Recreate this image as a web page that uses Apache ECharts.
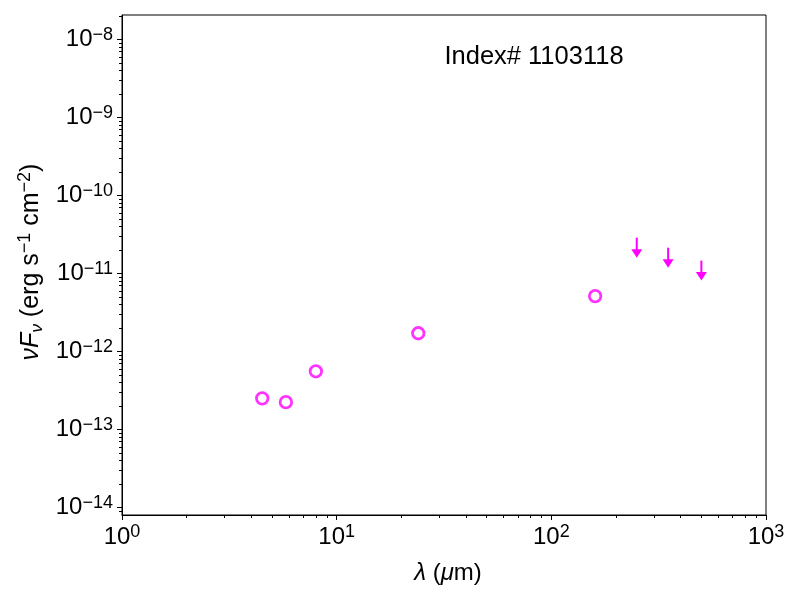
<!DOCTYPE html>
<html>
<head>
<meta charset="utf-8">
<script src="https://cdn.jsdelivr.net/npm/echarts@6/dist/echarts.min.js"></script>
<style>
  html, body { margin: 0; padding: 0; background: #fff; }
  #chart { width: 800px; height: 600px; }
</style>
</head>
<body>
<div id="chart"></div>
<script>
// photometry (wavelength in micron, nuFnu in erg/s/cm2)
const wavelengths = [4.5, 5.8, 8.0, 24, 160];
const fluxes = [2.52e-13, 2.25e-13, 5.6e-13, 1.72e-12, 5.15e-12];
// upper limits
const limitWavelengths = [250, 350, 500];
const limitFluxes = [2.89e-11, 2.15e-11, 1.47e-11];

const xDecades = [0, 1, 2, 3];
const yDecades = [-14, -13, -12, -11, -10, -9, -8];
const sourceLabel = 'Index# 1103118';

const MAGENTA = '#ff00ff';
const FONT = 'Liberation Sans';
const Y_MIN = -14.094, Y_MAX = -7.685;

const log = Math.log10;

// minor tick positions (2..9 x 10^n) in log space
function minorTicks(lo, hi) {
  const out = [];
  for (let n = Math.floor(lo); n <= Math.ceil(hi); n++) {
    for (let k = 2; k <= 9; k++) {
      const v = n + log(k);
      if (v > lo && v < hi) out.push(v);
    }
  }
  return out;
}

const powerLabel = v => {
  const e = Math.round(v);
  return '{b|10}{s|' + (e < 0 ? '\u2212' : '') + Math.abs(e) + '}';
};
const powerRich = {
  b: { fontFamily: FONT, fontSize: 24, lineHeight: 28, color: '#000' },
  s: { fontFamily: FONT, fontSize: 18, lineHeight: 18, verticalAlign: 'top', color: '#000' }
};

const chart = echarts.init(document.getElementById('chart'));

const option = {
  animation: false,
  backgroundColor: '#fff',
  grid: {
    left: 122, right: 34, top: 15, bottom: 85,
    show: true, borderColor: '#000', borderWidth: 1, backgroundColor: 'transparent'
  },
  xAxis: [
    {
      type: 'value', min: 0, max: 3, position: 'bottom',
      axisLine: { show: true, lineStyle: { color: '#000', width: 1 } },
      axisTick: { show: true, inside: false, length: 5, customValues: xDecades, lineStyle: { color: '#000' } },
      axisLabel: {
        customValues: xDecades, margin: 8,
        formatter: powerLabel, rich: powerRich
      },
      splitLine: { show: false }
    },
    {
      type: 'value', min: 0, max: 3, position: 'bottom',
      axisLine: { show: false },
      axisTick: { show: true, inside: false, length: 3, customValues: minorTicks(0, 3), lineStyle: { color: '#000' } },
      axisLabel: { show: false },
      splitLine: { show: false }
    }
  ],
  yAxis: [
    {
      type: 'value', min: Y_MIN, max: Y_MAX, position: 'left',
      axisLine: { show: true, lineStyle: { color: '#000', width: 1 } },
      axisTick: { show: true, inside: false, length: 5, customValues: yDecades, lineStyle: { color: '#000' } },
      axisLabel: {
        customValues: yDecades, margin: 9,
        formatter: powerLabel, rich: powerRich
      },
      splitLine: { show: false }
    },
    {
      type: 'value', min: Y_MIN, max: Y_MAX, position: 'left',
      axisLine: { show: false },
      axisTick: { show: true, inside: false, length: 3, customValues: minorTicks(Y_MIN, Y_MAX), lineStyle: { color: '#000' } },
      axisLabel: { show: false },
      splitLine: { show: false }
    }
  ],
  graphic: [
    {
      type: 'text', x: 534, y: 57,
      style: {
        text: sourceLabel, fontFamily: FONT, fontSize: 25.5, fill: '#000',
        align: 'center', verticalAlign: 'middle'
      }
    },
    {
      type: 'text', x: 448, y: 573,
      style: {
        text: '{i|\u03bb}{r|\u00a0(}{i|\u03bc}{r|m)}',
        align: 'center', verticalAlign: 'middle',
        rich: {
          i: { fontFamily: FONT, fontSize: 24, fontStyle: 'italic', fill: '#000' },
          r: { fontFamily: FONT, fontSize: 24, fill: '#000' }
        }
      }
    },
    {
      type: 'text', x: 31, y: 262, rotation: Math.PI / 2,
      style: {
        text: '{i|\u03bdF}{sub|\u03bd}{r|\u00a0(erg s}{sup|\u22121}{r|\u00a0cm}{sup|\u22122}{r|)}',
        align: 'center', verticalAlign: 'middle',
        rich: {
          i: { fontFamily: FONT, fontSize: 25, lineHeight: 29, fontStyle: 'italic', fill: '#000' },
          r: { fontFamily: FONT, fontSize: 25, lineHeight: 29, fill: '#000' },
          sub: { fontFamily: FONT, fontSize: 17, lineHeight: 17, fontStyle: 'italic', verticalAlign: 'bottom', fill: '#000' },
          sup: { fontFamily: FONT, fontSize: 18, lineHeight: 18, verticalAlign: 'top', fill: '#000' }
        }
      }
    }
  ],
  series: [
    {
      type: 'scatter',
      xAxisIndex: 0, yAxisIndex: 0,
      data: wavelengths.map((w, i) => [log(w), log(fluxes[i])]),
      symbol: 'circle',
      symbolSize: 11.5,
      itemStyle: { color: 'rgba(0,0,0,0)', borderColor: MAGENTA, borderWidth: 2.8 }
    },
    {
      type: 'custom',
      xAxisIndex: 0, yAxisIndex: 0,
      data: limitWavelengths.map((w, i) => [log(w), log(limitFluxes[i])]),
      renderItem: (params, api) => {
        const p = api.coord([api.value(0), api.value(1)]);
        return {
          type: 'group',
          children: [
            {
              type: 'line',
              shape: { x1: p[0], y1: p[1], x2: p[0], y2: p[1] + 13 },
              style: { stroke: MAGENTA, lineWidth: 2 }
            },
            {
              type: 'polygon',
              shape: { points: [[p[0] - 5.5, p[1] + 11.5], [p[0] + 5.5, p[1] + 11.5], [p[0], p[1] + 20]] },
              style: { fill: MAGENTA }
            }
          ]
        };
      }
    }
  ]
};

chart.setOption(option);
</script>
</body>
</html>
